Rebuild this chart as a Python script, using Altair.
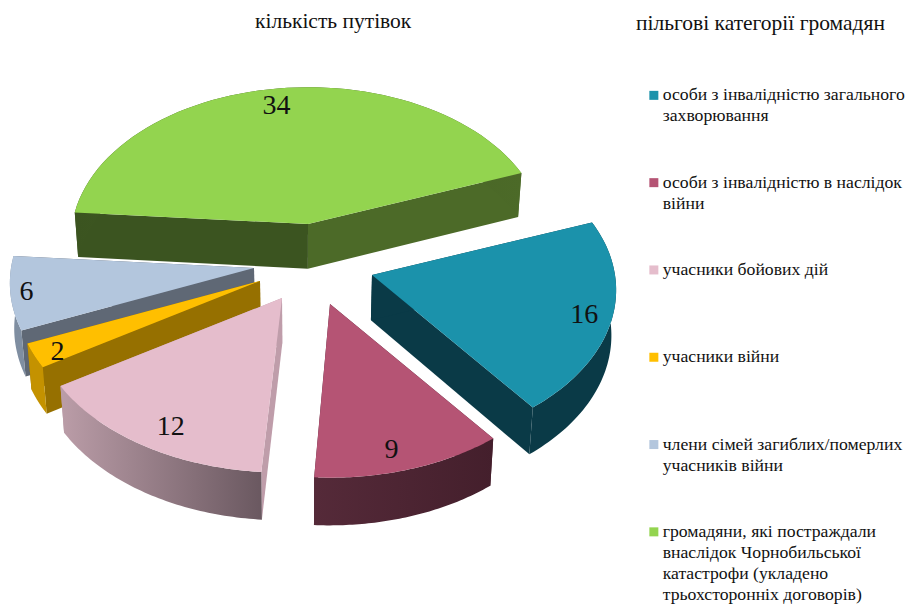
import math
import altair as alt

# --- values ---
categories = [
    "особи з інвалідністю загального|захворювання",
    "особи з інвалідністю в наслідок|війни",
    "учасники бойових дій",
    "учасники війни",
    "члени сімей загиблих/померлих|учасників війни",
    "громадяни, які постраждали|внаслідок Чорнобильської|катастрофи (укладено|трьохсторонніх договорів)",
]
values = [16, 9, 12, 2, 6, 34]
top_colors = ["#1b92ab", "#b55474", "#e5bdcc", "#ffbf00", "#b3c6dd", "#93d44f"]
cut_colors = ["#0a3a47", "#4a2030", "#bf9daa", "#967000", "#5f6875", "#4c6a28"]
back_cut_colors = ["#0a3a47", "#4a2030", "#bf9daa", "#967000", "#5f6875", "#3b5420"]
arc_gradients = [
    ("#0a3a47", "#0a3a47"),
    ("#552a39", "#441f2c"),
    ("#bb9da8", "#6a5860"),
    ("#c49200", "#c49200"),
    ("#7f8ea1", "#7f8ea1"),
    ("#3b5420", "#4c6a28"),
]
# layout of the exploded 3D wedges (not data)
apex_points = [(372, 275), (330, 304), (282, 298), (260, 281), (254, 268), (308, 224)]
radius_factors = [1.0, 1.015, 1.02, 1.0, 1.0, 0.97]
start_nudges = [0, 0, 1.0, 0, 0, 0]
label_nudges = [(1, 2), (-9, 1), (10, -1), (-4, 5), (-13, 2), (-5, 1)]
paint_order = [5, 4, 3, 0, 1, 2]

FIRST_ANGLE = 69.4
RADIUS = 243
DEPTH_Y = 154.6
PERSP = 0.0964
OFFSET = 8
FONT = "Liberation Serif"


def project(apex, theta, frac=1.0):
    t = math.radians(theta)
    den = 1 + PERSP * math.cos(t)
    return (
        apex[0] + RADIUS * frac * math.sin(t) / den,
        apex[1] - DEPTH_Y * frac * math.cos(t) / den,
    )


def lower(p):
    d = 42 + 0.012 * p[1]
    return (p[0] + (300 - p[0]) * 0.015, p[1] + d)


def feature(points, name):
    ring = [[x - OFFSET, y - OFFSET] for x, y in points]
    ring.append(ring[0])
    return {
        "type": "Feature",
        "geometry": {"type": "Polygon", "coordinates": [ring]},
        "properties": {"name": name},
    }


proj = alt.Projection(type="identity", scale=1, translate=[0, 0])
color_scale = alt.Scale(domain=categories, range=top_colors)
legend = alt.Legend(
    title="пільгові категорії громадян",
    orient="none",
    legendX=628,
    legendY=5,
    titleFont=FONT,
    titleFontSize=21.5,
    titleFontWeight="normal",
    titleColor="#111111",
    titlePadding=52,
    titleLimit=400,
    labelFont=FONT,
    labelFontSize=17.7,
    labelColor="#111111",
    labelLimit=300,
    labelOffset=0,
    labelExpr="split(datum.label, '|')",
    symbolType="square",
    symbolSize=81,
    symbolOffset=9,
    symbolStrokeWidth=0,
    gridAlign="all",
    rowPadding=5.3,
)

angles = []
a = FIRST_ANGLE
total = sum(values)
for v in values:
    angles.append((a, a + 360 * v / total))
    a += 360 * v / total

layers = []
for i in paint_order:
    start, end = angles[i]
    start += start_nudges[i]
    apex = apex_points[i]
    steps = 60
    arc = [
        project(apex, start + (end - start) * k / steps, radius_factors[i])
        for k in range(steps + 1)
    ]
    name = categories[i]

    def side(points, fill):
        poly = list(points) + [lower(p) for p in reversed(points)]
        return alt.Chart(alt.Data(values=[feature(poly, name)])).mark_geoshape(
            fill=fill
        ).project(**proj.to_dict())

    layers.append(side([apex, arc[-1]], cut_colors[i]))
    layers.append(side([apex, arc[0]], back_cut_colors[i]))
    c0, c1 = arc_gradients[i]
    layers.append(
        side(
            arc,
            alt.LinearGradient(
                gradient="linear",
                stops=[alt.GradientStop(offset=0, color=c0), alt.GradientStop(offset=1, color=c1)],
                x1=0, x2=1, y1=0, y2=0,
            ),
        )
    )
    layers.append(
        alt.Chart(alt.Data(values=[feature([apex] + arc, name)]))
        .mark_geoshape()
        .encode(color=alt.Color("properties.name:N", scale=color_scale, legend=legend, sort=categories))
        .project(**proj.to_dict())
    )

label_rows = []
for i, v in enumerate(values):
    mid = sum(angles[i]) / 2
    x, y = project(apex_points[i], mid, 0.88 * radius_factors[i])
    label_rows.append(
        {
            "lon": x + label_nudges[i][0] - OFFSET,
            "lat": y + label_nudges[i][1] - OFFSET,
            "value": str(v),
        }
    )

labels = (
    alt.Chart(alt.Data(values=label_rows))
    .mark_text(font=FONT, fontSize=28, color="#111111", baseline="middle", align="center")
    .encode(longitude="lon:Q", latitude="lat:Q", text="value:N")
    .project(**proj.to_dict())
)

chart = alt.layer(*layers, labels).properties(
    width=898,
    height=600,
    padding=0,
    autosize=alt.AutoSizeParams(type="none"),
    title=alt.TitleParams(
        "кількість путівок",
        anchor="start",
        frame="group",
        dx=247,
        dy=28,
        font=FONT,
        fontSize=21.5,
        fontWeight="normal",
        color="#111111",
    ),
)
chart.config = alt.Config(view=alt.ViewConfig(stroke=None), style={"guide-label": {"lineHeight": 21}})

chart.save("out.html", embed_options={"renderer": "svg", "actions": False})
